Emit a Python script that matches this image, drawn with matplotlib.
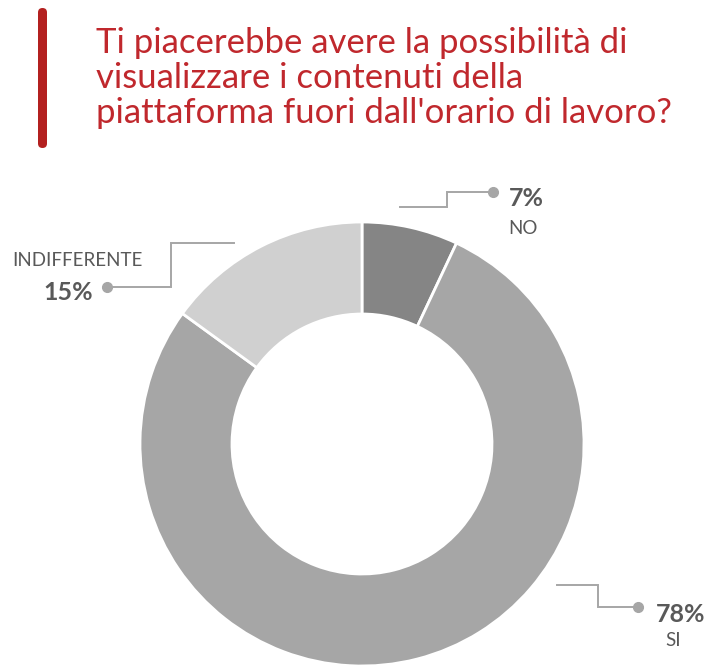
import matplotlib

matplotlib.use("Agg")
import matplotlib.pyplot as plt
from matplotlib.patches import FancyBboxPatch

labels = ["NO", "SI", "INDIFFERENTE"]
values = [7, 78, 15]
colors = ["#858585", "#a6a6a6", "#d0d0d0"]

title = "Ti piacerebbe avere la possibilità di\nvisualizzare i contenuti della\npiattaforma fuori dall'orario di lavoro?"

W, H = 711, 666
fig = plt.figure(figsize=(W / 100, H / 100), dpi=100)
ax = fig.add_axes([0, 0, 1, 1])
ax.set_axis_off()

# donut, clockwise from 12 o'clock
ax.pie(
    values,
    colors=colors,
    startangle=90,
    counterclock=False,
    center=(362, H - 444),
    radius=222,
    wedgeprops=dict(width=92, edgecolor="white", linewidth=2),
)
ax.set_xlim(0, W)
ax.set_ylim(0, H)
ax.set_aspect("equal")

# red accent bar next to the title
ax.add_patch(FancyBboxPatch((38, H - 148), 9, 140, boxstyle="round,pad=0,rounding_size=4.5",
                            facecolor="#b3201f", edgecolor="none"))
ax.text(96, H - 78, title, color="#c0282d", fontsize=25, family="Lato",
        ha="left", va="center", linespacing=1.1)

line_kw = dict(color="#a6a6a6", linewidth=1.4, solid_joinstyle="miter")
dot_kw = dict(color="#a6a6a6", markersize=7, marker="o")
pct_kw = dict(color="#595959", fontsize=18, fontweight="bold", family="Lato")
name_kw = dict(color="#595959", fontsize=13.5, family="Lato")

# NO
ax.plot([400, 447, 447, 493], [H - 207, H - 207, H - 192, H - 192], **line_kw)
ax.plot([493], [H - 192], **dot_kw)
ax.text(509, H - 199, f"{values[0]}%", ha="left", va="center", **pct_kw)
ax.text(508, H - 229, labels[0], ha="left", va="center", **name_kw)

# INDIFFERENTE
ax.plot([234, 171, 171, 107], [H - 243, H - 243, H - 287, H - 287], **line_kw)
ax.plot([107], [H - 287], **dot_kw)
ax.text(12, H - 261, labels[2], ha="left", va="center", **name_kw)
ax.text(93, H - 293, f"{values[2]}%", ha="right", va="center", **pct_kw)

# SI
ax.plot([557, 598, 598, 638], [H - 585, H - 585, H - 607, H - 607], **line_kw)
ax.plot([638], [H - 607], **dot_kw)
ax.text(656, H - 614, f"{values[1]}%", ha="left", va="center", **pct_kw)
ax.text(665, H - 641, labels[1], ha="left", va="center", **name_kw)

fig.savefig("out.png", dpi=100, facecolor="white")
